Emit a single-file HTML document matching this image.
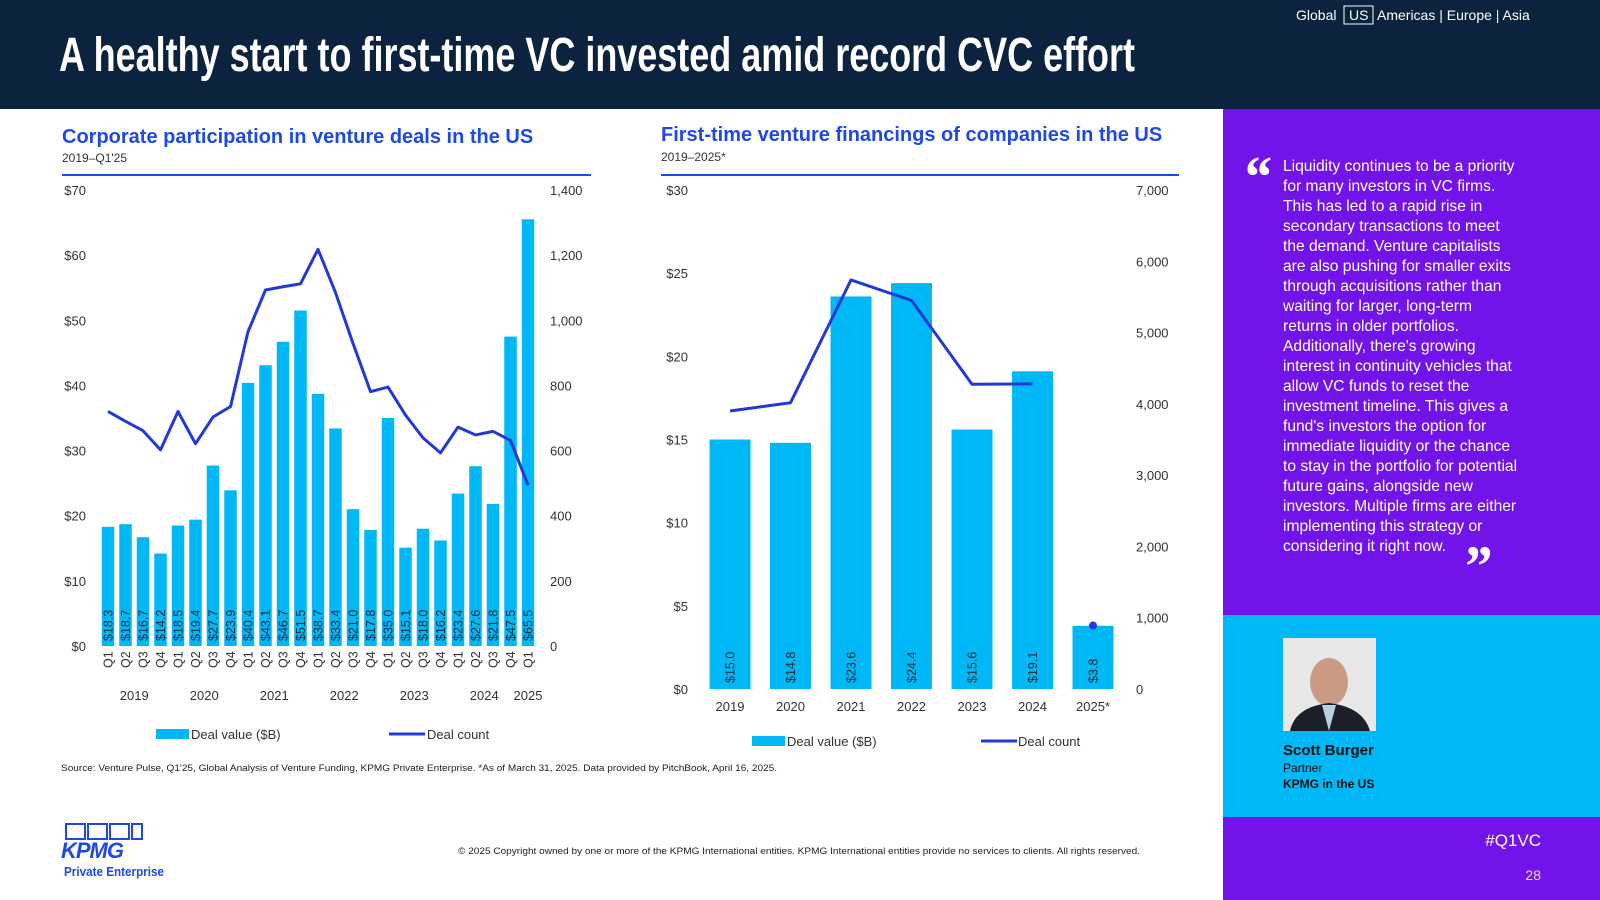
<!DOCTYPE html>
<html><head><meta charset="utf-8"><style>
body{margin:0;width:1600px;height:900px;overflow:hidden;font-family:"Liberation Sans",sans-serif;background:#fff}
svg{display:block}
</style></head><body>
<svg id="s" width="1600" height="900" xmlns="http://www.w3.org/2000/svg" font-family="Liberation Sans, sans-serif">
<rect x="0" y="0" width="1600" height="109" fill="#0C233F"/>
<text x="59" y="71" fill="#fff" font-weight="bold" font-size="48" textLength="1076" lengthAdjust="spacingAndGlyphs">A healthy start to first-time VC invested amid record CVC effort</text>
<g font-size="14" fill="#fff">
<text x="1296" y="20">Global</text>
<rect x="1344" y="6" width="29" height="18" fill="none" stroke="#fff" stroke-width="1"/>
<text x="1349" y="20">US</text>
<text x="1377" y="20">Americas | Europe | Asia</text>
</g>
<text x="62" y="143" fill="#1E49E2" font-weight="bold" font-size="20">Corporate participation in venture deals in the US</text>
<text x="62" y="162" fill="#333" font-size="12">2019–Q1'25</text>
<line x1="62" y1="175" x2="591" y2="175" stroke="#1E49E2" stroke-width="2"/>
<g id="left"></g>
<text x="661" y="141" fill="#1E49E2" font-weight="bold" font-size="20">First-time venture financings of companies in the US</text>
<text x="661" y="161" fill="#333" font-size="12">2019–2025*</text>
<line x1="661" y1="175" x2="1179" y2="175" stroke="#1E49E2" stroke-width="2"/>
<g id="right"></g>
<text x="61" y="771" font-size="9" fill="#222" textLength="716" lengthAdjust="spacingAndGlyphs">Source: Venture Pulse, Q1'25, Global Analysis of Venture Funding, KPMG Private Enterprise. *As of March 31, 2025. Data provided by PitchBook, April 16, 2025.</text>
<text x="458" y="854" font-size="9" fill="#222" textLength="682" lengthAdjust="spacingAndGlyphs">© 2025 Copyright owned by one or more of the KPMG International entities. KPMG International entities provide no services to clients. All rights reserved.</text>
<g>
<rect x="66" y="824" width="19" height="15" fill="none" stroke="#1E49E2" stroke-width="2"/>
<rect x="88" y="824" width="19" height="15" fill="none" stroke="#1E49E2" stroke-width="2"/>
<rect x="110" y="824" width="19" height="15" fill="none" stroke="#1E49E2" stroke-width="2"/>
<rect x="132" y="824" width="10" height="15" fill="none" stroke="#1E49E2" stroke-width="2"/>
<text x="61" y="858" font-size="22" font-weight="bold" font-style="italic" fill="#1E49E2" letter-spacing="-1">KPMG</text>
<text x="64" y="876" font-size="13" font-weight="bold" fill="#1E49E2" textLength="100" lengthAdjust="spacingAndGlyphs">Private Enterprise</text>
</g>
<rect x="1223" y="109" width="377" height="506" fill="#7213EA"/>
<rect x="1223" y="615" width="377" height="202" fill="#00B8F5"/>
<rect x="1223" y="817" width="377" height="83" fill="#7213EA"/>
<text x="1242" y="196" fill="#fff" font-size="58" font-weight="bold" font-style="italic" font-family="Liberation Serif, serif">“</text>
<text id="q" x="1283" y="171" fill="#fff" font-size="15.6"></text>
<text x="1462" y="586" fill="#fff" font-size="58" font-weight="bold" font-style="italic" font-family="Liberation Serif, serif">”</text>
<g>
<rect x="1283" y="638" width="93" height="93" fill="#e8e8e8"/>
<ellipse cx="1329" cy="682" rx="19" ry="24" fill="#c99a84"/>
<path d="M1290 731 Q1295 707 1329 703 Q1363 707 1370 731Z" fill="#1a1f2a"/>
<path d="M1322 705 L1329 731 L1336 705Z" fill="#b9cfe4"/>
</g>
<text x="1283" y="755" font-size="15" font-weight="bold" fill="#111">Scott Burger</text>
<text x="1283" y="772" font-size="12" fill="#111">Partner</text>
<text x="1283" y="788" font-size="12" font-weight="bold" fill="#111">KPMG in the US</text>
<text x="1541" y="846" font-size="17" fill="#fff" text-anchor="end">#Q1VC</text>
<text x="1541" y="880" font-size="14" fill="#e8dcfb" text-anchor="end">28</text>
</svg>
<script>
const NS="http://www.w3.org/2000/svg";
function mk(p,t,a,txt){const e=document.createElementNS(NS,t);for(const k in a)e.setAttribute(k,a[k]);if(txt!==undefined)e.textContent=txt;p.appendChild(e);return e;}

const lQuarters=["Q1","Q2","Q3","Q4","Q1","Q2","Q3","Q4","Q1","Q2","Q3","Q4","Q1","Q2","Q3","Q4","Q1","Q2","Q3","Q4","Q1","Q2","Q3","Q4","Q1"];
const lYears=["2019","2020","2021","2022","2023","2024","2025"];
const lValues=[18.3,18.7,16.7,14.2,18.5,19.4,27.7,23.9,40.4,43.1,46.7,51.5,38.7,33.4,21.0,17.8,35.0,15.1,18.0,16.2,23.4,27.6,21.8,47.5,65.5];
const lCounts=[720,690,661,602,720,621,703,735,965,1093,1103,1112,1218,1085,929,781,795,709,639,593,672,648,659,631,494];
const lLeftTicks=[0,10,20,30,40,50,60,70];
const lRightTicks=[0,200,400,600,800,1000,1200,1400];

const L=document.getElementById('left');
const lx0=108,lstep=17.5,ly0=646,ly1=190;
const lxs=i=>lx0+i*lstep;
const lyv=v=>ly0-(v/70)*(ly0-ly1);
const lyc=c=>ly0-(c/1400)*(ly0-ly1);
lLeftTicks.forEach(t=>{const e=mk(L,'text',{x:86,y:lyv(t)+5,'text-anchor':'end','font-size':13,fill:'#333'},'$'+t);

});
lRightTicks.forEach(t=>{const e=mk(L,'text',{x:550,y:lyc(t)+5,'font-size':13,fill:'#333'},t.toLocaleString('en-US'));

});
lValues.forEach((v,i)=>{const r=mk(L,'rect',{x:lxs(i)-6.25,y:lyv(v),width:12.5,height:ly0-lyv(v),fill:'#00B8F5'});


const cx=lxs(i)+4.5;const t=mk(L,'text',{x:cx,y:641,'font-size':12.5,fill:'#1a2a3a',transform:`rotate(-90 ${cx} 641)`},'$'+v.toFixed(1));

});
lQuarters.forEach((q,i)=>{const cx=lxs(i)+4.5,cy=668;const t=mk(L,'text',{x:cx,y:cy,'font-size':12.5,fill:'#333',transform:`rotate(-90 ${cx} ${cy})`},q);

});
lYears.forEach((y,k)=>{const c=k<6?(lxs(k*4)+lxs(k*4+3))/2:lxs(24);const t=mk(L,'text',{x:c,y:700,'text-anchor':'middle','font-size':13,fill:'#333'},y);

});
const lp=mk(L,'polyline',{points:lCounts.map((c,i)=>lxs(i)+','+lyc(c)).join(' '),fill:'none',stroke:'#2438D6','stroke-width':3,'stroke-linejoin':'round'});


let g=mk(L,'g',{});
mk(g,'rect',{x:156,y:729,width:33,height:10,fill:'#00B8F5'});
mk(g,'text',{x:191,y:739,'font-size':13,fill:'#333'},'Deal value ($B)');
mk(g,'line',{x1:389,y1:734,x2:425,y2:734,stroke:'#2438D6','stroke-width':3});
mk(g,'text',{x:427,y:739,'font-size':13,fill:'#333'},'Deal count');

const rYears=["2019","2020","2021","2022","2023","2024","2025*"];
const rValues=[15.0,14.8,23.6,24.4,15.6,19.1,3.8];
const rCounts=[3900,4016,5738,5451,4275,4280,890];
const rLeftTicks=[0,5,10,15,20,25,30];
const rRightTicks=[0,1000,2000,3000,4000,5000,6000,7000];

const R=document.getElementById('right');
const rx0=730,rstep=60.5,ry0=689,ry1=190;
const rxs=i=>rx0+i*rstep;
const ryv=v=>ry0-(v/30)*(ry0-ry1);
const ryc=c=>ry0-(c/7000)*(ry0-ry1);
rLeftTicks.forEach(t=>{const e=mk(R,'text',{x:688,y:ryv(t)+5,'text-anchor':'end','font-size':13,fill:'#333'},'$'+t);

});
rRightTicks.forEach(t=>{const e=mk(R,'text',{x:1136,y:ryc(t)+5,'font-size':13,fill:'#333'},t.toLocaleString('en-US'));

});
rValues.forEach((v,i)=>{const r=mk(R,'rect',{x:rxs(i)-20.5,y:ryv(v),width:41,height:ry0-ryv(v),fill:'#00B8F5'});


const cx=rxs(i)+4.5;const t=mk(R,'text',{x:cx,y:683,'font-size':12.5,fill:'#1a2a3a',transform:`rotate(-90 ${cx} 683)`},'$'+v.toFixed(1));


const y=mk(R,'text',{x:rxs(i),y:711,'text-anchor':'middle','font-size':13,fill:'#333'},rYears[i]);

});
const rp=mk(R,'polyline',{points:rCounts.slice(0,6).map((c,i)=>rxs(i)+','+ryc(c)).join(' '),fill:'none',stroke:'#2438D6','stroke-width':3,'stroke-linejoin':'round'});


const dot=mk(R,'circle',{cx:rxs(6),cy:ryc(rCounts[6]),r:4,fill:'#2438D6'});


g=mk(R,'g',{});
mk(g,'rect',{x:752,y:736,width:33,height:10,fill:'#00B8F5'});
mk(g,'text',{x:787,y:746,'font-size':13,fill:'#333'},'Deal value ($B)');
mk(g,'line',{x1:981,y1:741,x2:1017,y2:741,stroke:'#2438D6','stroke-width':3});
mk(g,'text',{x:1018,y:746,'font-size':13,fill:'#333'},'Deal count');

const lines=["Liquidity continues to be a priority","for many investors in VC firms.","This has led to a rapid rise in","secondary transactions to meet","the demand. Venture capitalists","are also pushing for smaller exits","through acquisitions rather than","waiting for larger, long-term","returns in older portfolios.","Additionally, there's growing","interest in continuity vehicles that","allow VC funds to reset the","investment timeline. This gives a","fund's investors the option for","immediate liquidity or the chance","to stay in the portfolio for potential","future gains, alongside new","investors. Multiple firms are either","implementing this strategy or","considering it right now."];
const q=document.getElementById('q');
lines.forEach((l,i)=>{mk(q,'tspan',{x:1283,dy:i?20:0},l);});
</script>
</body></html>
